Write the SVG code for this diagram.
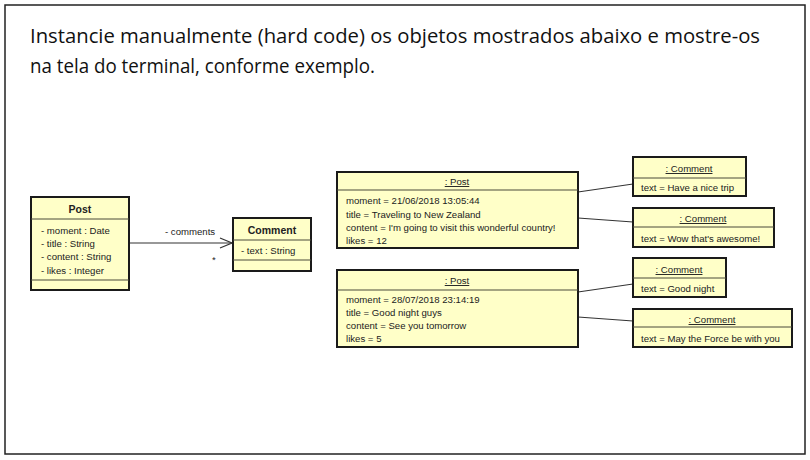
<svg xmlns="http://www.w3.org/2000/svg" width="810" height="460" viewBox="0 0 810 460">
<defs>
<style>
.frame{fill:#fff;stroke:#222;stroke-width:1.5}
.box{fill:#FFFFC8;stroke:#1a1a1a;stroke-width:2}
.div{stroke:#4a4a3a;stroke-width:1}
.t{font-family:"Liberation Sans",Arial,sans-serif;font-size:9.6px;fill:#222}
.b{font-weight:bold;font-size:10.5px}
.u{text-decoration:underline}
.title{font-family:"Open Sans","Liberation Sans",sans-serif;font-size:20px;fill:#111}
.conn{stroke:#333;stroke-width:1.2;fill:none}
</style>
<marker id="open" markerWidth="14" markerHeight="12" refX="13" refY="6" orient="auto" markerUnits="userSpaceOnUse">
<path d="M1,1 L13,6 L1,11" fill="none" stroke="#333" stroke-width="1.2"/>
</marker>
</defs>
<rect x="0" y="0" width="810" height="460" fill="#fff"/>
<rect class="frame" x="5" y="5" width="800" height="449"/>
<text class="title" x="30" y="43" textLength="730" lengthAdjust="spacingAndGlyphs">Instancie manualmente (hard code) os objetos mostrados abaixo e mostre-os</text>
<text class="title" x="30" y="73" textLength="345" lengthAdjust="spacingAndGlyphs">na tela do terminal, conforme exemplo.</text>

<g id="connectors">
<line class="conn" x1="129" y1="243" x2="232" y2="243" marker-end="url(#open)"/>
<text class="t" x="165" y="235">- comments</text>
<text class="t" x="212" y="263">*</text>
<line class="conn" x1="578" y1="192" x2="633" y2="184"/>
<line class="conn" x1="578" y1="218" x2="633" y2="222"/>
<line class="conn" x1="578" y1="292" x2="633" y2="284"/>
<line class="conn" x1="578" y1="317" x2="633" y2="321"/>
</g>

<g id="class-post">
<rect class="box" x="31" y="197" width="98" height="93"/>
<line class="div" x1="31" y1="219" x2="129" y2="219"/>
<line class="div" x1="31" y1="280" x2="129" y2="280"/>
<text class="t b" x="80" y="213" text-anchor="middle">Post</text>
<text class="t" x="41" y="234">- moment : Date</text>
<text class="t" x="41" y="247">- title : String</text>
<text class="t" x="41" y="260">- content : String</text>
<text class="t" x="41" y="274">- likes : Integer</text>
</g>

<g id="class-comment">
<rect class="box" x="233" y="218" width="78" height="53"/>
<line class="div" x1="233" y1="240" x2="311" y2="240"/>
<line class="div" x1="233" y1="260" x2="311" y2="260"/>
<text class="t b" x="272" y="234" text-anchor="middle">Comment</text>
<text class="t" x="241" y="254">- text : String</text>
</g>

<g id="obj-post1">
<rect class="box" x="337" y="172" width="241" height="76"/>
<line class="div" x1="337" y1="190" x2="578" y2="190"/>
<text class="t u" x="457" y="185" text-anchor="middle">: Post</text>
<text class="t" x="346" y="204">moment = 21/06/2018 13:05:44</text>
<text class="t" x="346" y="218">title = Traveling to New Zealand</text>
<text class="t" x="346" y="231">content = I'm going to visit this wonderful country!</text>
<text class="t" x="346" y="244">likes = 12</text>
</g>

<g id="obj-post2">
<rect class="box" x="337" y="270" width="241" height="77"/>
<line class="div" x1="337" y1="290" x2="578" y2="290"/>
<text class="t u" x="457" y="284" text-anchor="middle">: Post</text>
<text class="t" x="346" y="303">moment = 28/07/2018 23:14:19</text>
<text class="t" x="346" y="316">title = Good night guys</text>
<text class="t" x="346" y="329">content = See you tomorrow</text>
<text class="t" x="346" y="342">likes = 5</text>
</g>

<g id="obj-comment1">
<rect class="box" x="633" y="157" width="113" height="39"/>
<line class="div" x1="633" y1="178" x2="746" y2="178"/>
<text class="t u" x="689" y="172" text-anchor="middle">: Comment</text>
<text class="t" x="641" y="191">text = Have a nice trip</text>
</g>

<g id="obj-comment2">
<rect class="box" x="633" y="208" width="141" height="39"/>
<line class="div" x1="633" y1="227" x2="774" y2="227"/>
<text class="t u" x="703" y="222" text-anchor="middle">: Comment</text>
<text class="t" x="641" y="242">text = Wow that's awesome!</text>
</g>

<g id="obj-comment3">
<rect class="box" x="633" y="258" width="93" height="39"/>
<line class="div" x1="633" y1="278" x2="726" y2="278"/>
<text class="t u" x="679" y="273" text-anchor="middle">: Comment</text>
<text class="t" x="641" y="292">text = Good night</text>
</g>

<g id="obj-comment4">
<rect class="box" x="633" y="309" width="159" height="38"/>
<line class="div" x1="633" y1="327" x2="792" y2="327"/>
<text class="t u" x="712" y="323" text-anchor="middle">: Comment</text>
<text class="t" x="641" y="342">text = May the Force be with you</text>
</g>
</svg>
